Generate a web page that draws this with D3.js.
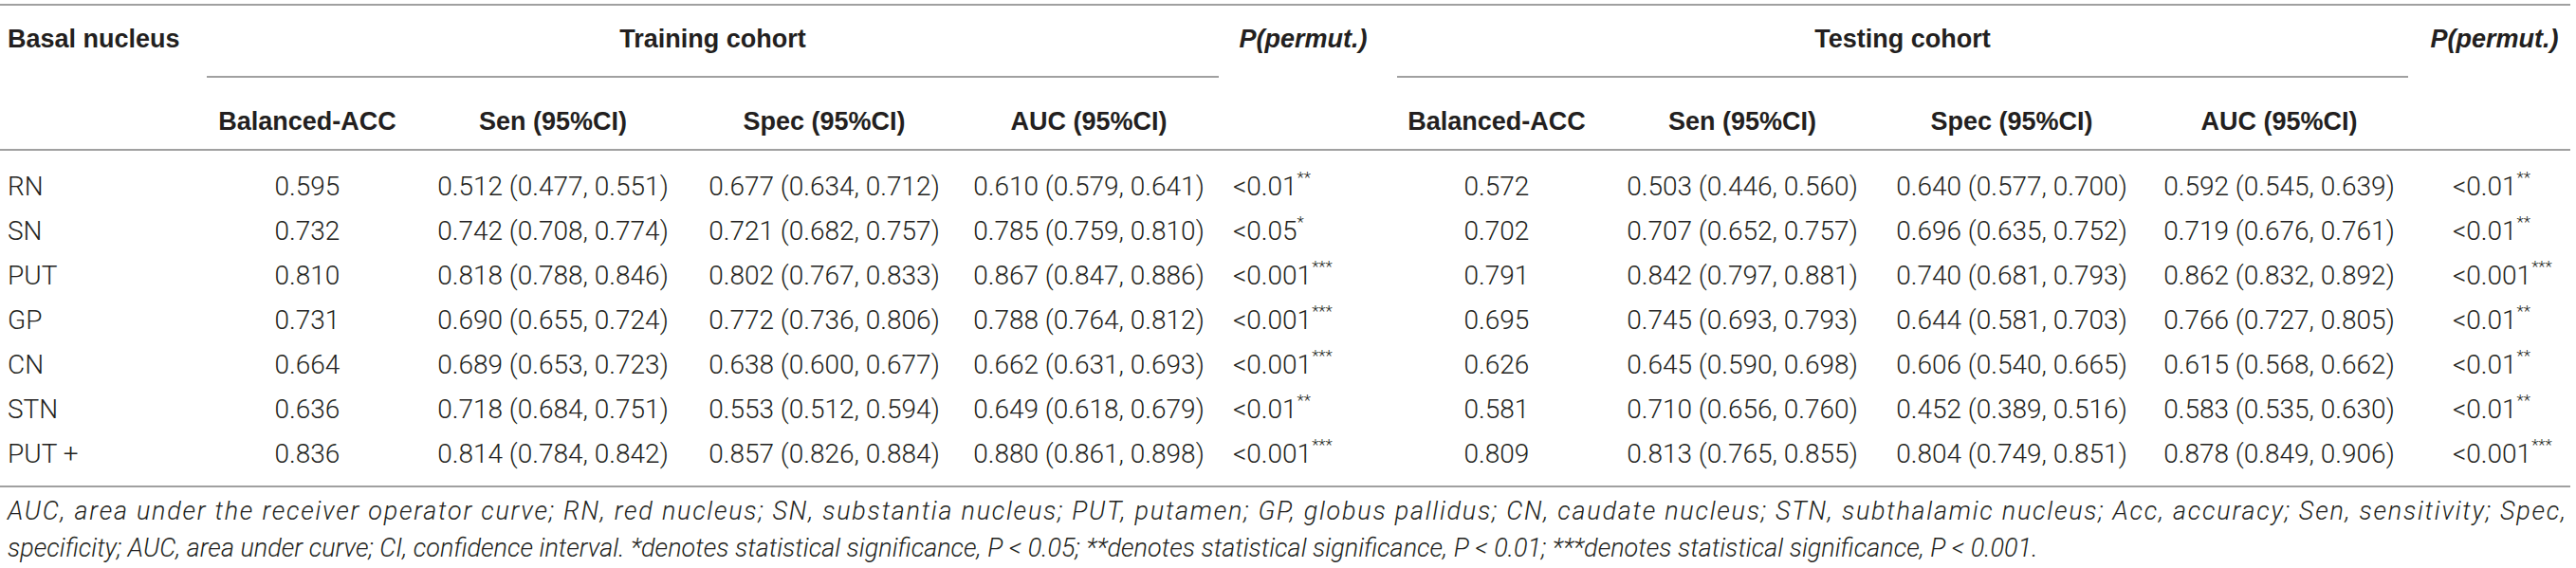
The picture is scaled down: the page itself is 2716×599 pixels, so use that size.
<!DOCTYPE html>
<html>
<head>
<meta charset="utf-8">
<script src="https://cdn.jsdelivr.net/npm/d3@7"></script>
<style>
  body { margin: 0; background: #fff; }
  svg { display: block; }
</style>
</head>
<body>
<div id="table"></div>
<script>
const width = 2716;
const height = 599;

// Table content
const nuclei = ["RN", "SN", "PUT", "GP", "CN", "STN", "PUT +"];

const trainBalAcc = [0.595, 0.732, 0.810, 0.731, 0.664, 0.636, 0.836];
const trainSen = [[0.512, 0.477, 0.551], [0.742, 0.708, 0.774], [0.818, 0.788, 0.846], [0.690, 0.655, 0.724], [0.689, 0.653, 0.723], [0.718, 0.684, 0.751], [0.814, 0.784, 0.842]];
const trainSpec = [[0.677, 0.634, 0.712], [0.721, 0.682, 0.757], [0.802, 0.767, 0.833], [0.772, 0.736, 0.806], [0.638, 0.600, 0.677], [0.553, 0.512, 0.594], [0.857, 0.826, 0.884]];
const trainAuc = [[0.610, 0.579, 0.641], [0.785, 0.759, 0.810], [0.867, 0.847, 0.886], [0.788, 0.764, 0.812], [0.662, 0.631, 0.693], [0.649, 0.618, 0.679], [0.880, 0.861, 0.898]];
const trainP = [["<0.01", "**"], ["<0.05", "*"], ["<0.001", "***"], ["<0.001", "***"], ["<0.001", "***"], ["<0.01", "**"], ["<0.001", "***"]];

const testBalAcc = [0.572, 0.702, 0.791, 0.695, 0.626, 0.581, 0.809];
const testSen = [[0.503, 0.446, 0.560], [0.707, 0.652, 0.757], [0.842, 0.797, 0.881], [0.745, 0.693, 0.793], [0.645, 0.590, 0.698], [0.710, 0.656, 0.760], [0.813, 0.765, 0.855]];
const testSpec = [[0.640, 0.577, 0.700], [0.696, 0.635, 0.752], [0.740, 0.681, 0.793], [0.644, 0.581, 0.703], [0.606, 0.540, 0.665], [0.452, 0.389, 0.516], [0.804, 0.749, 0.851]];
const testAuc = [[0.592, 0.545, 0.639], [0.719, 0.676, 0.761], [0.862, 0.832, 0.892], [0.766, 0.727, 0.805], [0.615, 0.568, 0.662], [0.583, 0.535, 0.630], [0.878, 0.849, 0.906]];
const testP = [["<0.01", "**"], ["<0.01", "**"], ["<0.001", "***"], ["<0.01", "**"], ["<0.01", "**"], ["<0.01", "**"], ["<0.001", "***"]];

const columnLabels = ["Balanced-ACC", "Sen (95%CI)", "Spec (95%CI)", "AUC (95%CI)"];
const cohortLabels = ["Training cohort", "Testing cohort"];

const footnoteLines = [
  "AUC, area under the receiver operator curve; RN, red nucleus; SN, substantia nucleus; PUT, putamen; GP, globus pallidus; CN, caudate nucleus; STN, subthalamic nucleus; Acc, accuracy; Sen, sensitivity; Spec,",
  "specificity; AUC, area under curve; CI, confidence interval. *denotes statistical significance, P < 0.05; **denotes statistical significance, P < 0.01; ***denotes statistical significance, P < 0.001."
];

const headFont = "'Liberation Sans', Arial, sans-serif";
const bodyFont = "Roboto, 'Liberation Sans', sans-serif";
const ink = "#231f20";
const ruleColor = "#a0a0a0";

const svg = d3.select("#table").append("svg").attr("width", width).attr("height", height);

// column centres for each cohort block
const colX = d3.scaleOrdinal()
  .domain(["trBal", "trSen", "trSpec", "trAuc", "trP", "teBal", "teSen", "teSpec", "teAuc", "teP"])
  .range([324, 583, 869, 1148, 1374, 1578, 1837, 2121, 2403, 2630]);
const pLeft = { trP: 1300, teP: 2586 };

const rowY = d3.scalePoint().domain(nuclei).range([196, 478]);

const fmt = d3.format(".3f");
const ci = (d) => `${fmt(d[0])} (${fmt(d[1])}, ${fmt(d[2])})`;

// rules
const rules = [
  { x1: 0, x2: 2710, y: 5 },
  { x1: 218, x2: 1285, y: 81 },
  { x1: 1473, x2: 2539, y: 81 },
  { x1: 0, x2: 2710, y: 158 },
  { x1: 0, x2: 2710, y: 513 }
];
svg.selectAll("line.rule")
  .data(rules)
  .enter()
  .append("line")
  .attr("class", "rule")
  .attr("x1", (d) => d.x1)
  .attr("x2", (d) => d.x2)
  .attr("y1", (d) => d.y)
  .attr("y2", (d) => d.y)
  .attr("stroke", ruleColor)
  .attr("stroke-width", 2);

// header row 1
const head = svg.append("g")
  .attr("font-family", headFont)
  .attr("font-weight", "bold")
  .attr("font-size", 27)
  .attr("fill", ink)
  .attr("dominant-baseline", "central");

head.append("text").attr("x", 8).attr("y", 41).text("Basal nucleus");
head.selectAll("text.cohort")
  .data(cohortLabels)
  .enter()
  .append("text")
  .attr("class", "cohort")
  .attr("x", (d, i) => (i === 0 ? (218 + 1285) / 2 : (1473 + 2539) / 2))
  .attr("y", 41)
  .attr("text-anchor", "middle")
  .text((d) => d);
head.selectAll("text.perm")
  .data(["trP", "teP"])
  .enter()
  .append("text")
  .attr("class", "perm")
  .attr("x", (d) => colX(d))
  .attr("y", 41)
  .attr("text-anchor", "middle")
  .attr("font-style", "italic")
  .text("P(permut.)");

// header row 2
const subKeys = [["trBal", "trSen", "trSpec", "trAuc"], ["teBal", "teSen", "teSpec", "teAuc"]];
subKeys.forEach((keys) => {
  head.selectAll(null)
    .data(keys)
    .enter()
    .append("text")
    .attr("x", (d) => colX(d))
    .attr("y", 128)
    .attr("text-anchor", "middle")
    .text((d, i) => columnLabels[i]);
});

// body rows
const body = svg.append("g")
  .attr("font-family", bodyFont)
  .attr("font-weight", 300)
  .attr("font-size", 28)
  .attr("fill", ink)
  .attr("dominant-baseline", "central");

const rows = nuclei.map((n, i) => ({
  name: n,
  cells: [
    ["trBal", fmt(trainBalAcc[i])],
    ["trSen", ci(trainSen[i])],
    ["trSpec", ci(trainSpec[i])],
    ["trAuc", ci(trainAuc[i])],
    ["teBal", fmt(testBalAcc[i])],
    ["teSen", ci(testSen[i])],
    ["teSpec", ci(testSpec[i])],
    ["teAuc", ci(testAuc[i])]
  ],
  p: [["trP", trainP[i]], ["teP", testP[i]]]
}));

const row = body.selectAll("g.row")
  .data(rows)
  .enter()
  .append("g")
  .attr("class", "row")
  .attr("transform", (d) => `translate(0,${rowY(d.name)})`);

row.append("text").attr("x", 8).attr("y", 0).text((d) => d.name);

row.selectAll("text.cell")
  .data((d) => d.cells)
  .enter()
  .append("text")
  .attr("class", "cell")
  .attr("x", (d) => colX(d[0]))
  .attr("y", 0)
  .attr("text-anchor", "middle")
  .text((d) => d[1]);

const pText = row.selectAll("text.pval")
  .data((d) => d.p)
  .enter()
  .append("text")
  .attr("class", "pval")
  .attr("x", (d) => pLeft[d[0]])
  .attr("y", 0);
pText.append("tspan").text((d) => d[1][0]);
pText.append("tspan")
  .attr("font-size", 17)
  .attr("dy", -9)
  .text((d) => d[1][1]);

// footnote
const foot = svg.append("g")
  .attr("font-family", bodyFont)
  .attr("font-weight", 300)
  .attr("font-style", "italic")
  .attr("font-size", 27)
  .attr("fill", ink)
  .attr("dominant-baseline", "central");

foot.append("text")
  .attr("x", 8)
  .attr("y", 539)
  .attr("textLength", 2697)
  .attr("lengthAdjust", "spacing")
  .text(footnoteLines[0]);
foot.append("text")
  .attr("x", 8)
  .attr("y", 578)
  .text(footnoteLines[1]);
</script>
</body>
</html>
